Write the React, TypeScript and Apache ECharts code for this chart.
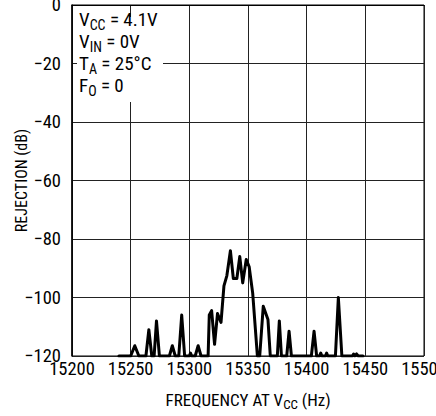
import React, { useEffect, useRef } from "react";
import * as echarts from "echarts";

const freqs = [
  15240, 15250, 15253.5, 15257, 15263, 15265.5, 15268, 15270, 15272, 15274.5,
  15283, 15285.5, 15288, 15291, 15293.5, 15296, 15300, 15301, 15302, 15305,
  15307.5, 15310, 15316, 15317, 15319, 15321.5, 15324, 15327, 15329.5, 15332,
  15335, 15337.5, 15340.5, 15343, 15345.5, 15348.5, 15351, 15354, 15358, 15360,
  15363, 15367, 15369, 15375, 15376.7, 15378.5, 15383, 15385, 15387, 15404,
  15406.3, 15408.5, 15411, 15412, 15413, 15416, 15417, 15418, 15424.5, 15427,
  15430, 15439, 15440, 15441, 15442.5, 15444, 15448,
];
const rejection = [
  -120, -120, -116.5, -120, -120, -111, -120, -120, -108, -120,
  -120, -116.5, -120, -120, -106, -120, -120, -119, -120, -120,
  -116.5, -120, -120, -106, -104.5, -116, -105.5, -108.5, -96, -92.5,
  -84, -93.5, -93.5, -86, -95, -87, -89.5, -98.5, -120, -120,
  -103, -107.5, -120, -120, -108, -120, -120, -111.5, -120, -120,
  -111.5, -120, -120, -119, -120, -120, -119, -120, -120, -100,
  -120, -120, -119.3, -120, -119.3, -120, -120,
];
const annotationLines = [
  ["V", "CC", " = 4.1V"],
  ["V", "IN", " = 0V"],
  ["T", "A", " = 25°C"],
  ["F", "O", " = 0"],
];
const xName = ["FREQUENCY AT V", "CC", " (Hz)"];
const yName = "REJECTION (dB)";

const FONT = '"Liberation Sans Narrow", "Roboto Condensed", "DejaVu Sans Condensed", "Liberation Sans", sans-serif';

export default function App() {
  const ref = useRef<HTMLDivElement>(null);
  useEffect(() => {
    if (!ref.current) return;
    document.body.style.margin = "0";
    const chart = echarts.init(ref.current, undefined, { renderer: "svg" });
    const data = freqs.map((f, i) => [f, rejection[i]]);
    const richMain = { fontSize: 19, fontFamily: FONT, color: "#000", lineHeight: 22, verticalAlign: "top" };
    const richSub = { fontSize: 14, fontFamily: FONT, color: "#000", lineHeight: 22, verticalAlign: "bottom" };
    const annText = annotationLines
      .map((l) => `{a|${l[0]}}{s|${l[1]}}{a|${l[2]}}`)
      .join("\n");
    chart.setOption({
      animation: false,
      backgroundColor: "#fff",
      grid: {
        left: 72,
        right: 12,
        top: 5,
        bottom: 60,
        containLabel: false,
        outerBoundsMode: "none",
        show: true,
        borderColor: "#000",
        borderWidth: 1,
      },
      xAxis: {
        type: "value",
        min: 15200,
        max: 15500,
        interval: 50,
        name: `{a|${xName[0]}}{s|${xName[1]}}{a|${xName[2]}}`,
        nameLocation: "middle",
        nameGap: 35,
        nameMoveOverlap: false,
        nameTextStyle: {
          rich: {
            a: { ...richMain, fontSize: 17, lineHeight: 20 },
            s: { ...richSub, fontSize: 13, lineHeight: 20 },
          },
        },
        axisLine: { show: true, lineStyle: { color: "#000", width: 1 } },
        axisTick: { show: false },
        axisLabel: {
          color: "#000",
          fontSize: 18.5,
          fontFamily: FONT,
          margin: 3,
          hideOverlap: false,
          formatter: (v: number) => String(v),
        },
        splitLine: { show: true, lineStyle: { color: "#222", width: 1 } },
      },
      yAxis: {
        type: "value",
        min: -120,
        max: 0,
        interval: 20,
        name: yName,
        nameLocation: "middle",
        nameGap: 43,
        nameMoveOverlap: false,
        nameTextStyle: { color: "#000", fontSize: 16, fontFamily: FONT },
        axisLine: { show: true, lineStyle: { color: "#000", width: 1.5 } },
        axisTick: { show: false },
        axisLabel: {
          color: "#000",
          fontSize: 18.5,
          fontFamily: FONT,
          margin: 11,
          formatter: (v: number) => (v < 0 ? "\u2212" + Math.abs(v) : String(v)),
        },
        splitLine: { show: true, lineStyle: { color: "#222", width: 1 } },
      },
      graphic: [
        {
          type: "rect",
          shape: { x: 77, y: 17, width: 86, height: 85 },
          style: { fill: "#fff" },
          z: 100,
        },
        {
          type: "text",
          x: 79,
          y: 10,
          z: 101,
          style: {
            text: annText,
            rich: { a: richMain, s: richSub },
          },
        },
      ],
      series: [
        {
          type: "line",
          data,
          symbol: "none",
          smooth: false,
          lineStyle: { color: "#000", width: 3, join: "round", cap: "round" },
          z: 5,
        },
      ],
    });
    return () => chart.dispose();
  }, []);
  return <div ref={ref} style={{ width: 436, height: 416 }} />;
}
